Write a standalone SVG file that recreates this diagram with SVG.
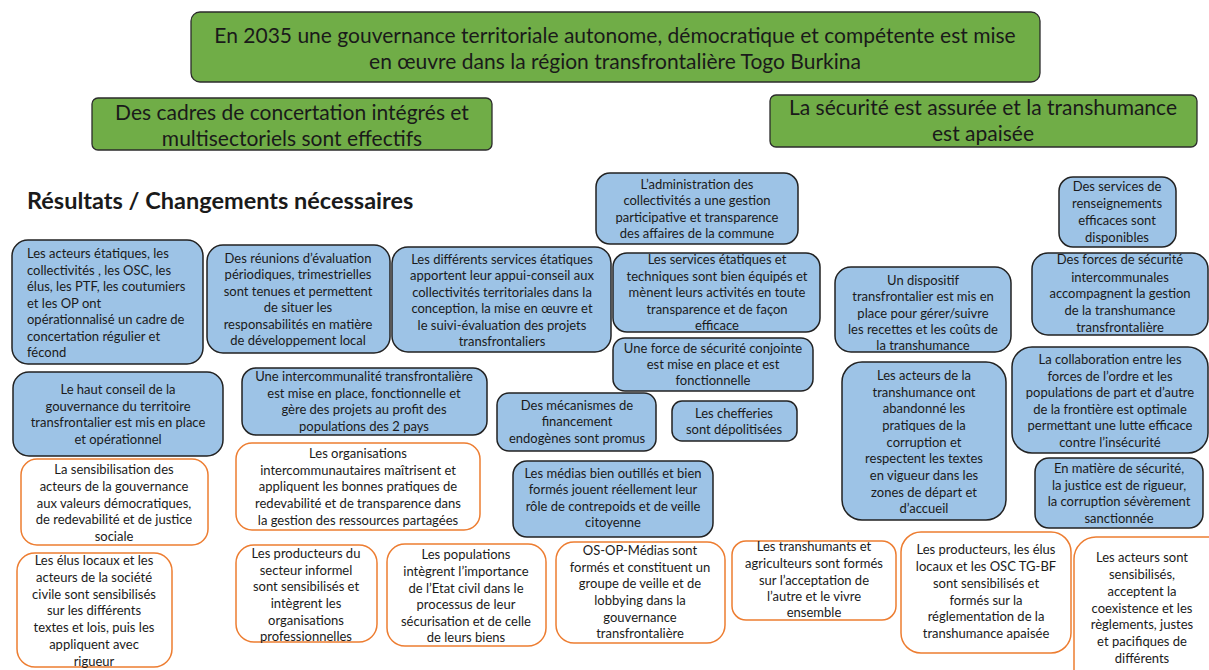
<svg xmlns="http://www.w3.org/2000/svg" width="1209" height="670" viewBox="0 0 1209 670">
<style>
.g{fill:#70AD47;stroke:#2b2b2b;stroke-width:1.3}
.b{fill:#9DC3E6;stroke:#222;stroke-width:1.5}
.o{fill:#fff;stroke:#ED7D31;stroke-width:1.5}
text{font-family:Lato,"Open Sans",sans-serif;fill:#1a1a1a}
.t{font-size:13px;text-anchor:middle}
.l{font-size:13px}
.h{font-size:21px;text-anchor:middle}
</style>
<rect width="1209" height="670" fill="#fff"/>
<g id="goal"><rect class="g" x="191" y="12" width="849" height="70" rx="9"/>
<text class="h" x="615" y="43">En 2035 une gouvernance territoriale autonome, démocratique et compétente est mise</text>
<text class="h" x="615" y="69">en œuvre dans la région transfrontalière Togo Burkina</text></g>
<g id="obj1"><rect class="g" x="92" y="98" width="400" height="52" rx="6"/>
<text class="h" x="292" y="120">Des cadres de concertation intégrés et</text>
<text class="h" x="292" y="146">multisectoriels sont effectifs</text></g>
<g id="obj2"><rect class="g" x="770" y="95" width="427" height="52" rx="6"/>
<text class="h" x="983" y="115">La sécurité est assurée et la transhumance</text>
<text class="h" x="983" y="141">est apaisée</text></g>
<text x="27" y="209" style="font-size:23.5px;font-weight:bold">Résultats / Changements nécessaires</text>

<g id="n1"><rect class="b" x="12" y="240" width="191" height="124" rx="16"/>
<text class="l" x="27" y="258">Les acteurs étatiques, les</text>
<text class="l" x="27" y="274.5">collectivités , les OSC, les</text>
<text class="l" x="27" y="291">élus, les PTF, les coutumiers</text>
<text class="l" x="27" y="307.5">et les OP ont</text>
<text class="l" x="27" y="324">opérationnalisé un cadre de</text>
<text class="l" x="27" y="340.5">concertation régulier et</text>
<text class="l" x="27" y="357">fécond</text></g>
<g id="n2"><rect class="b" x="207" y="245" width="183" height="108" rx="16"/>
<text class="t" x="298" y="262.5">Des réunions d’évaluation</text>
<text class="t" x="298" y="279">périodiques, trimestrielles</text>
<text class="t" x="298" y="295.5">sont tenues et permettent</text>
<text class="t" x="298" y="312">de situer les</text>
<text class="t" x="298" y="328.5">responsabilités en matière</text>
<text class="t" x="298" y="345">de développement local</text></g>
<g id="n3"><rect class="b" x="392" y="247" width="219" height="105" rx="16"/>
<text class="t" x="502" y="263.5">Les différents services étatiques</text>
<text class="t" x="502" y="280">apportent leur appui-conseil aux</text>
<text class="t" x="502" y="296.5">collectivités territoriales dans la</text>
<text class="t" x="502" y="313">conception, la mise en œuvre et</text>
<text class="t" x="502" y="329.5">le suivi-évaluation des projets</text>
<text class="t" x="502" y="346">transfrontaliers</text></g>
<g id="n4"><rect class="b" x="596" y="173" width="202" height="71" rx="14"/>
<text class="t" x="697" y="188.5">L’administration des</text>
<text class="t" x="697" y="205">collectivités a une gestion</text>
<text class="t" x="697" y="221.5">participative et transparence</text>
<text class="t" x="697" y="238">des affaires de la commune</text></g>
<g id="n5"><rect class="b" x="613" y="253" width="207" height="79" rx="14"/>
<text class="t" x="717" y="263.5">Les services  étatiques et</text>
<text class="t" x="717" y="280.5">techniques sont bien équipés et</text>
<text class="t" x="717" y="297">mènent leurs activités en toute</text>
<text class="t" x="717" y="313.5">transparence et de façon</text>
<text class="t" x="717" y="330">efficace</text></g>
<g id="n6"><rect class="b" x="613" y="338" width="200" height="53" rx="12"/>
<text class="t" x="713" y="352.5">Une force de sécurité conjointe</text>
<text class="t" x="713" y="368.5">est mise en place et est</text>
<text class="t" x="713" y="384.5">fonctionnelle</text></g>
<g id="n7"><rect class="b" x="497" y="393" width="159" height="58" rx="12"/>
<text class="t" x="577" y="409.5">Des  mécanismes de</text>
<text class="t" x="577" y="426">financement</text>
<text class="t" x="577" y="442.5">endogènes sont promus</text></g>
<g id="n8"><rect class="b" x="672" y="401" width="125" height="40" rx="10"/>
<text class="t" x="734" y="417.5">Les chefferies</text>
<text class="t" x="734" y="433.5">sont dépolitisées</text></g>
<g id="n9"><rect class="b" x="513" y="461" width="200" height="76" rx="14"/>
<text class="t" x="613" y="477.5">Les médias bien outillés et bien</text>
<text class="t" x="613" y="494">formés jouent réellement leur</text>
<text class="t" x="613" y="510.5">rôle de contrepoids et de veille</text>
<text class="t" x="613" y="527">citoyenne</text></g>
<g id="n10"><rect class="b" x="13" y="372" width="210" height="84" rx="16"/>
<text class="t" x="118" y="393.5">Le haut  conseil de la</text>
<text class="t" x="118" y="410.5">gouvernance du territoire</text>
<text class="t" x="118" y="427">transfrontalier est mis en place</text>
<text class="t" x="118" y="443.5">et opérationnel</text></g>
<g id="n11"><rect class="b" x="242" y="368" width="245" height="67" rx="14"/>
<text class="t" x="364" y="380.5">Une intercommunalité transfrontalière</text>
<text class="t" x="364" y="397.5">est mise en place, fonctionnelle et</text>
<text class="t" x="364" y="413.5">gère des projets au profit des</text>
<text class="t" x="364" y="430.5">populations des 2 pays</text></g>
<g id="n12"><rect class="b" x="835" y="267" width="176" height="85" rx="16"/>
<text class="t" x="923" y="284.5">Un dispositif</text>
<text class="t" x="923" y="300.5">transfrontalier est mis en</text>
<text class="t" x="923" y="317.5">place pour gérer/suivre</text>
<text class="t" x="923" y="333.5">les recettes et les coûts de</text>
<text class="t" x="923" y="350">la transhumance</text></g>
<g id="n13"><rect class="b" x="1059" y="177" width="117" height="70" rx="14"/>
<text class="t" x="1117" y="190.5">Des services de</text>
<text class="t" x="1117" y="207.5">renseignements</text>
<text class="t" x="1117" y="224.5">efficaces sont</text>
<text class="t" x="1117" y="241.5">disponibles</text></g>
<g id="n14"><rect class="b" x="1032" y="253" width="176" height="82" rx="16"/>
<text class="t" x="1120" y="263.5">Des forces de sécurité</text>
<text class="t" x="1120" y="281.5">intercommunales</text>
<text class="t" x="1120" y="297.5">accompagnent la gestion</text>
<text class="t" x="1120" y="314.5">de la transhumance</text>
<text class="t" x="1120" y="331.5">transfrontalière</text></g>
<g id="n15"><rect class="b" x="842" y="362" width="164" height="158" rx="20"/>
<text class="t" x="924" y="379.5">Les acteurs de la</text>
<text class="t" x="924" y="396.5">transhumance ont</text>
<text class="t" x="924" y="413">abandonné les</text>
<text class="t" x="924" y="429.5">pratiques de la</text>
<text class="t" x="924" y="446.5">corruption et</text>
<text class="t" x="924" y="462.5">respectent les textes</text>
<text class="t" x="924" y="479.5">en vigueur dans les</text>
<text class="t" x="924" y="496.5">zones de départ et</text>
<text class="t" x="924" y="512.5">d’accueil</text></g>
<g id="n16"><rect class="b" x="1012" y="347" width="196" height="106" rx="20"/>
<text class="t" x="1110" y="363.5">La collaboration entre les</text>
<text class="t" x="1110" y="380.5">forces de l’ordre et les</text>
<text class="t" x="1110" y="396.5">populations de part et d’autre</text>
<text class="t" x="1110" y="413.5">de la frontière est optimale</text>
<text class="t" x="1110" y="429.5">permettant une lutte efficace</text>
<text class="t" x="1110" y="446.5">contre l’insécurité</text></g>
<g id="n17"><rect class="b" x="1035" y="458" width="168" height="70" rx="14"/>
<text class="t" x="1119" y="472.5">En matière  de sécurité,</text>
<text class="t" x="1119" y="489.5">la justice est de rigueur,</text>
<text class="t" x="1119" y="505.5">la corruption sévèrement</text>
<text class="t" x="1119" y="522.5">sanctionnée</text></g>

<g id="o1"><rect class="o" x="21" y="459" width="187" height="86" rx="16"/>
<text class="t" x="114" y="473.5">La sensibilisation des</text>
<text class="t" x="114" y="490.5">acteurs de la gouvernance</text>
<text class="t" x="114" y="507.5">aux valeurs démocratiques,</text>
<text class="t" x="114" y="523.5">de redevabilité et de justice</text>
<text class="t" x="114" y="540.5">sociale</text></g>
<g id="o2"><rect class="o" x="236" y="443" width="244" height="87" rx="16"/>
<text class="t" x="358" y="457.5">Les organisations</text>
<text class="t" x="358" y="474.5">intercommunautaires maîtrisent et</text>
<text class="t" x="358" y="490.5">appliquent les bonnes pratiques de</text>
<text class="t" x="358" y="507.5">redevabilité et de transparence dans</text>
<text class="t" x="358" y="524.5">la gestion des ressources partagées</text></g>
<g id="o3"><rect class="o" x="17" y="553" width="155" height="114" rx="18"/>
<text class="t" x="94" y="564.5">Les élus locaux et les</text>
<text class="t" x="94" y="581.5">acteurs de la société</text>
<text class="t" x="94" y="598.5">civile sont sensibilisés</text>
<text class="t" x="94" y="614.5">sur les différents</text>
<text class="t" x="94" y="631.5">textes et lois, puis les</text>
<text class="t" x="94" y="648.5">appliquent avec</text>
<text class="t" x="94" y="665.5">rigueur</text></g>
<g id="o4"><rect class="o" x="236" y="545" width="141" height="97" rx="18"/>
<text class="t" x="306" y="557.5">Les producteurs du</text>
<text class="t" x="306" y="574.5">secteur informel</text>
<text class="t" x="306" y="590.5">sont sensibilisés et</text>
<text class="t" x="306" y="607.5">intègrent les</text>
<text class="t" x="306" y="624.5">organisations</text>
<text class="t" x="306" y="640.5">professionnelles</text></g>
<g id="o5"><rect class="o" x="387" y="544" width="159" height="102" rx="18"/>
<text class="t" x="466" y="558.5">Les populations</text>
<text class="t" x="466" y="575.5">intègrent l’importance</text>
<text class="t" x="466" y="592.5">de l’Etat civil dans le</text>
<text class="t" x="466" y="608.5">processus de leur</text>
<text class="t" x="466" y="625.5">sécurisation et de celle</text>
<text class="t" x="466" y="641.5">de leurs biens</text></g>
<g id="o6"><rect class="o" x="556" y="542" width="169" height="101" rx="18"/>
<text class="t" x="640" y="554.5">OS-OP-Médias sont</text>
<text class="t" x="640" y="571.5">formés et constituent un</text>
<text class="t" x="640" y="587.5">groupe de veille et de</text>
<text class="t" x="640" y="604.5">lobbying dans la</text>
<text class="t" x="640" y="621.5">gouvernance</text>
<text class="t" x="640" y="637.5">transfrontalière</text></g>
<g id="o7"><rect class="o" x="732" y="541" width="164" height="79" rx="14"/>
<text class="t" x="814" y="550.5">Les transhumants et</text>
<text class="t" x="814" y="567.5">agriculteurs sont formés</text>
<text class="t" x="814" y="584.5">sur l’acceptation de</text>
<text class="t" x="814" y="600.5">l’autre et le vivre</text>
<text class="t" x="814" y="616.5">ensemble</text></g>
<g id="o8"><rect class="o" x="901" y="532" width="170" height="121" rx="20"/>
<text class="t" x="986" y="553.5">Les producteurs, les élus</text>
<text class="t" x="986" y="570.5">locaux et les OSC TG-BF</text>
<text class="t" x="986" y="587.5">sont sensibilisés et</text>
<text class="t" x="986" y="604.5">formés sur la</text>
<text class="t" x="986" y="620.5">réglementation de la</text>
<text class="t" x="986" y="637.5">transhumance apaisée</text></g>
<g id="o9"><rect class="o" x="1074" y="537" width="160" height="160" rx="22"/>
<text class="t" x="1142" y="561.5">Les acteurs sont</text>
<text class="t" x="1142" y="578.5">sensibilisés,</text>
<text class="t" x="1142" y="595.5">acceptent la</text>
<text class="t" x="1142" y="612.5">coexistence et les</text>
<text class="t" x="1142" y="628.5">règlements, justes</text>
<text class="t" x="1142" y="645.5">et pacifiques de</text>
<text class="t" x="1142" y="662.5">différents</text></g>
<g id="connectors"></g>
</svg>
